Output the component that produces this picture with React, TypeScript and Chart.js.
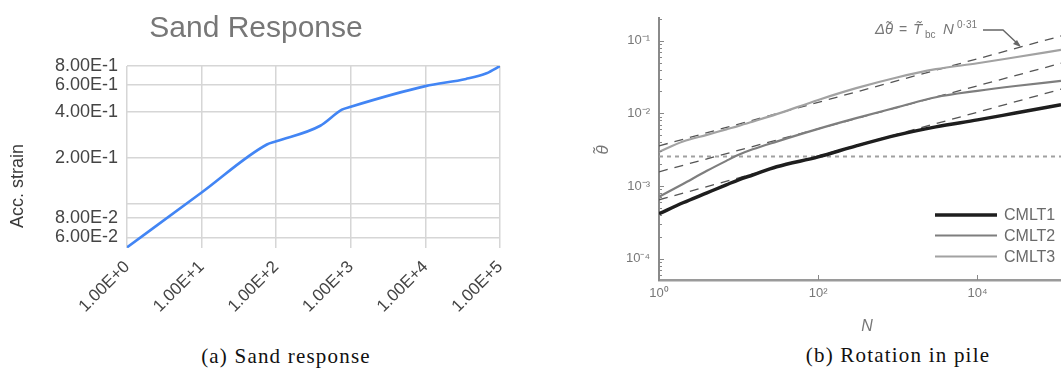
import React, { useEffect, useRef } from 'react';
import { Chart, registerables } from 'chart.js';

Chart.register(...registerables);

const SANS = '"Liberation Sans", Arial, sans-serif';

// ---------- Panel (a): Sand response ----------
const sandCycles = [1, 10, 75, 100, 390, 760, 1000, 10000, 35000, 66000, 100000];
const sandStrain = [0.0515, 0.118, 0.244, 0.256, 0.324, 0.413, 0.432, 0.59, 0.658, 0.717, 0.8];
const sandYTicks = [0.06, 0.08, 0.1, 0.2, 0.4, 0.6, 0.8];
const sandYLabels = ['6.00E-2', '8.00E-2', '', '2.00E-1', '4.00E-1', '6.00E-1', '8.00E-1'];
const sandXTicks = [1, 10, 100, 1000, 10000, 100000];
const sandXLabels = ['1.00E+0', '1.00E+1', '1.00E+2', '1.00E+3', '1.00E+4', '1.00E+5'];

// ---------- Panel (b): Rotation in pile ----------
const pileN = [1, 2, 4, 7, 10, 15, 30, 100, 300, 1000, 3000, 10000, 30000, 112000];
const cmlt1 = [4.16e-4, 5.89e-4, 8.07e-4, 1.04e-3, 1.22e-3, 1.42e-3, 1.84e-3, 2.52e-3, 3.57e-3, 5.06e-3, 6.52e-3, 8.13e-3, 1.01e-2, 1.31e-2];
const cmlt2 = [7.11e-4, 1.07e-3, 1.62e-3, 2.22e-3, 2.69e-3, 3.2e-3, 4.09e-3, 6.12e-3, 8.59e-3, 1.217e-2, 1.668e-2, 2.04e-2, 2.38e-2, 2.79e-2];
const cmlt3 = [2.95e-3, 4.09e-3, 5.06e-3, 6.03e-3, 6.73e-3, 7.7e-3, 9.75e-3, 1.53e-2, 2.22e-2, 3.14e-2, 4.05e-2, 4.89e-2, 5.91e-2, 7.45e-2];
const fitN = [1, 112000];
const fit1 = [6.47e-4, 2.15e-2];
const fit2 = [1.57e-3, 4.89e-2];
const fit3 = [3.57e-3, 1.16e-1];
const thresholdN = [1, 112000];
const threshold = [2.55e-3, 2.55e-3];
const pileYTicks = [1e-4, 1e-3, 1e-2, 1e-1];
const pileYLabels = ['10⁻⁴', '10⁻³', '10⁻²', '10⁻¹'];
const pileXTicks = [1, 100, 10000];
const pileXLabels = ['10⁰', '10²', '10⁴'];
const legendLabels = ['CMLT1', 'CMLT2', 'CMLT3'];

type TextItem = {
  text: string; x: number; y: number; font: string; color: string;
  align?: CanvasTextAlign; baseline?: CanvasTextBaseline; rotate?: number;
};

function makeTextPlugin(id: string, items: TextItem[]) {
  return {
    id,
    afterDraw(chart: any) {
      const ctx = chart.ctx as CanvasRenderingContext2D;
      items.forEach((t) => {
        ctx.save();
        ctx.font = t.font;
        ctx.fillStyle = t.color;
        ctx.textAlign = t.align || 'left';
        ctx.textBaseline = t.baseline || 'alphabetic';
        ctx.translate(t.x, t.y);
        if (t.rotate) ctx.rotate(t.rotate);
        ctx.fillText(t.text, 0, 0);
        ctx.restore();
      });
    },
  };
}

const pts = (xs: number[], ys: number[]) => xs.map((x, i) => ({ x, y: ys[i] }));

export default function App() {
  const refA = useRef<HTMLCanvasElement>(null);
  const refB = useRef<HTMLCanvasElement>(null);

  useEffect(() => {
    if (!refA.current) return;
    const textsA = makeTextPlugin('textsA', [
      { text: 'Sand Response', x: 256, y: 37, font: `30px ${SANS}`, color: '#777777', align: 'center' },
      { text: 'Acc. strain', x: 18, y: 186, font: `18px ${SANS}`, color: '#3a3a3a', align: 'center', baseline: 'middle', rotate: -Math.PI / 2 },
    ]);
    const chartA = new Chart(refA.current, {
      type: 'line',
      data: {
        datasets: [
          {
            label: 'Acc. strain',
            data: pts(sandCycles, sandStrain),
            borderColor: '#4285f4',
            borderWidth: 2.6,
            pointRadius: 0,
            cubicInterpolationMode: 'monotone',
          },
        ],
      },
      options: {
        animation: false,
        responsive: false,
        layout: { padding: { top: 66, right: 30, left: 0, bottom: 0 } },
        plugins: { legend: { display: false }, tooltip: { enabled: false }, title: { display: false } },
        scales: {
          x: {
            type: 'logarithmic',
            min: 1,
            max: 100000,
            afterBuildTicks: (s: any) => { s.ticks = sandXTicks.map((v) => ({ value: v })); },
            afterFit: (s: any) => { s.height = 92; },
            border: { display: false },
            grid: { color: '#d6d6d6', lineWidth: 1.5, drawTicks: false },
            ticks: {
              autoSkip: false,
              minRotation: 45,
              maxRotation: 45,
              padding: 9,
              color: '#444444',
              font: { family: SANS, size: 17 },
              callback: (_v: any, i: number) => sandXLabels[i],
            },
          },
          y: {
            type: 'logarithmic',
            min: 0.051,
            max: 0.8,
            afterBuildTicks: (s: any) => { s.ticks = sandYTicks.map((v) => ({ value: v })); },
            afterFit: (s: any) => { s.width = 127; },
            border: { display: false },
            grid: { color: '#d6d6d6', lineWidth: 1.5, drawTicks: false },
            ticks: {
              autoSkip: false,
              padding: 9,
              color: '#444444',
              font: { family: SANS, size: 18 },
              callback: (_v: any, i: number) => sandYLabels[i],
            },
          },
        },
      } as any,
      plugins: [textsA],
    });
    return () => chartA.destroy();
  }, []);

  useEffect(() => {
    if (!refB.current) return;
    const ox = 540;
    const grey = '#777777';
    const textsB = makeTextPlugin('textsB', [
      { text: 'θ̃', x: 603 - ox, y: 150, font: `italic 17px ${SANS}`, color: grey, align: 'center', baseline: 'middle', rotate: -Math.PI / 2 },
      { text: 'N', x: 867 - ox, y: 327, font: `italic 16px ${SANS}`, color: grey, align: 'center', baseline: 'middle' },
      { text: 'Δθ̃', x: 875 - ox, y: 34, font: `italic 15px ${SANS}`, color: grey },
      { text: '=', x: 899 - ox, y: 34, font: `14px ${SANS}`, color: grey },
      { text: 'T̃', x: 913 - ox, y: 34, font: `italic 15px ${SANS}`, color: grey },
      { text: 'bc', x: 925 - ox, y: 38, font: `10px ${SANS}`, color: grey },
      { text: 'N', x: 943 - ox, y: 34, font: `italic 15px ${SANS}`, color: grey },
      { text: '0·31', x: 957 - ox, y: 28, font: `10px ${SANS}`, color: grey },
    ]);
    const decor = {
      id: 'decorB',
      afterDatasetsDraw(chart: any) {
        const ctx = chart.ctx as CanvasRenderingContext2D;
        const xs = chart.scales.x;
        const ys = chart.scales.y;
        const area = chart.chartArea;
        ctx.save();
        ctx.strokeStyle = '#888888';
        ctx.lineWidth = 1;
        for (let e = -5; e <= 0; e++) {
          for (let m = 1; m <= 9; m++) {
            const v = m * Math.pow(10, e);
            if (v < ys.min || v > ys.max) continue;
            const y = Math.round(ys.getPixelForValue(v)) + 0.5;
            ctx.beginPath();
            ctx.moveTo(area.left, y);
            ctx.lineTo(area.left + (m === 1 ? 5 : 3), y);
            ctx.stroke();
          }
        }
        pileXTicks.forEach((v) => {
          const x = Math.round(xs.getPixelForValue(v)) + 0.5;
          ctx.beginPath();
          ctx.moveTo(x, area.bottom);
          ctx.lineTo(x, area.bottom - 5);
          ctx.stroke();
        });
        ctx.strokeStyle = '#666666';
        ctx.lineWidth = 1.4;
        ctx.beginPath();
        ctx.moveTo(983 - ox, 30);
        ctx.lineTo(1003 - ox, 30);
        ctx.lineTo(1019 - ox, 45);
        ctx.stroke();
        ctx.fillStyle = '#666666';
        ctx.beginPath();
        ctx.moveTo(1021 - ox, 47);
        ctx.lineTo(1013 - ox, 44);
        ctx.lineTo(1017 - ox, 40);
        ctx.closePath();
        ctx.fill();
        const ds = chart.data.datasets.filter((d: any) => legendLabels.includes(d.label));
        ds.forEach((d: any, i: number) => {
          const y = [215, 235.5, 256.5][i];
          ctx.strokeStyle = d.borderColor;
          ctx.lineWidth = d.borderWidth;
          ctx.beginPath();
          ctx.moveTo(935 - ox, y);
          ctx.lineTo(997 - ox, y);
          ctx.stroke();
          ctx.fillStyle = '#6a6a6a';
          ctx.font = `16px ${SANS}`;
          ctx.textBaseline = 'middle';
          ctx.textAlign = 'left';
          ctx.fillText(d.label, 1004 - ox, y + 1);
        });
        ctx.restore();
      },
    };
    const fitStyle = { borderColor: '#555555', borderWidth: 1.3, borderDash: [9, 7], pointRadius: 0 };
    const chartB = new Chart(refB.current, {
      type: 'line',
      data: {
        datasets: [
          { label: 'CMLT1', data: pts(pileN, cmlt1), borderColor: '#1e1e1e', borderWidth: 3.5, pointRadius: 0, cubicInterpolationMode: 'monotone' },
          { label: 'CMLT2', data: pts(pileN, cmlt2), borderColor: '#7e7e7e', borderWidth: 2.2, pointRadius: 0, cubicInterpolationMode: 'monotone' },
          { label: 'CMLT3', data: pts(pileN, cmlt3), borderColor: '#a2a2a2', borderWidth: 2.2, pointRadius: 0, cubicInterpolationMode: 'monotone' },
          { label: 'fit1', data: pts(fitN, fit1), ...fitStyle },
          { label: 'fit2', data: pts(fitN, fit2), ...fitStyle },
          { label: 'fit3', data: pts(fitN, fit3), ...fitStyle },
          { label: 'threshold', data: pts(thresholdN, threshold), borderColor: '#a0a0a0', borderWidth: 2, borderDash: [4, 4], pointRadius: 0 },
        ],
      },
      options: {
        animation: false,
        responsive: false,
        layout: { padding: { top: 18, right: 0, left: 0, bottom: 0 } },
        plugins: { legend: { display: false }, tooltip: { enabled: false }, title: { display: false } },
        scales: {
          x: {
            type: 'logarithmic',
            min: 1,
            max: 112000,
            afterBuildTicks: (s: any) => { s.ticks = pileXTicks.map((v) => ({ value: v })); },
            afterFit: (s: any) => { s.height = 60; },
            border: { display: true, color: '#9a9a9a', width: 2.5 },
            grid: { display: false, drawTicks: false },
            ticks: {
              autoSkip: false,
              maxRotation: 0,
              padding: 6,
              color: grey,
              font: { family: SANS, size: 13 },
              callback: (_v: any, i: number) => pileXLabels[i],
            },
          },
          y: {
            type: 'logarithmic',
            min: 5.1e-5,
            max: 0.205,
            afterBuildTicks: (s: any) => { s.ticks = pileYTicks.map((v) => ({ value: v })); },
            afterFit: (s: any) => { s.width = 119; },
            border: { display: true, color: '#8a8a8a', width: 2 },
            grid: { display: false, drawTicks: false },
            ticks: {
              autoSkip: false,
              padding: 9,
              color: grey,
              font: { family: SANS, size: 13 },
              callback: (_v: any, i: number) => pileYLabels[i],
            },
          },
        },
      } as any,
      plugins: [textsB, decor],
    });
    return () => chartB.destroy();
  }, []);

  const caption: React.CSSProperties = {
    position: 'absolute',
    fontFamily: '"Liberation Serif", "Times New Roman", serif',
    fontSize: 21,
    letterSpacing: '1.2px',
    lineHeight: '21px',
    color: '#111',
    whiteSpace: 'nowrap',
    transform: 'translateX(-50%)',
  };

  return (
    <div style={{ position: 'absolute', left: 0, top: 0, width: 1061, height: 371, background: '#fff', overflow: 'hidden' }}>
      <canvas ref={refA} width={530} height={340} style={{ position: 'absolute', left: 0, top: 0, width: 530, height: 340 }} />
      <canvas ref={refB} width={521} height={340} style={{ position: 'absolute', left: 540, top: 0, width: 521, height: 340 }} />
      <div style={{ ...caption, left: 286, top: 346 }}>(a) Sand response</div>
      <div style={{ ...caption, left: 898, top: 345 }}>(b) Rotation in pile</div>
    </div>
  );
}
